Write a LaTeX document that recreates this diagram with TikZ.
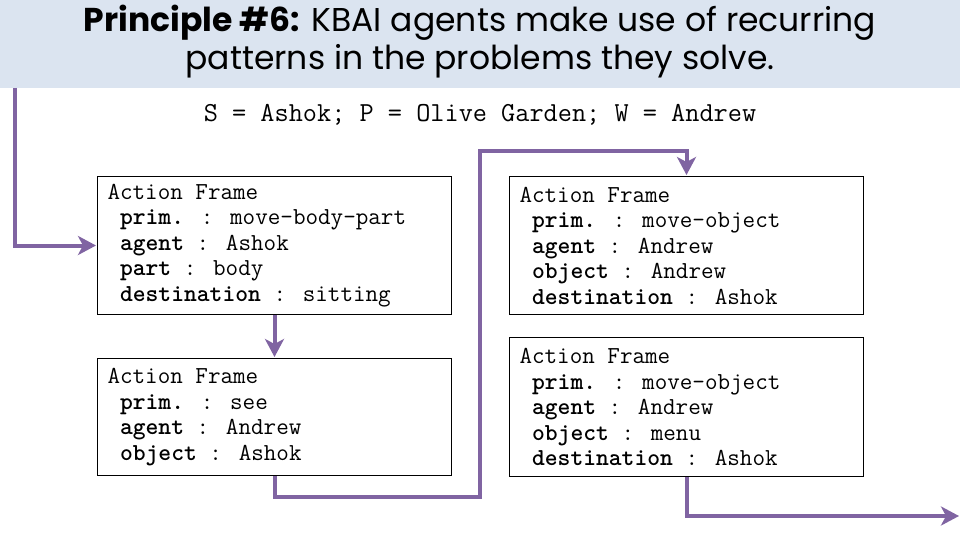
\documentclass[tikz,border=0pt]{standalone}
\usepackage{fontspec}
\newfontfamily\titlefont{Poppins}
\usetikzlibrary{arrows.meta}
\definecolor{band}{RGB}{219,228,240}
\definecolor{flow}{RGB}{128,100,162}
\begin{document}
\begin{tikzpicture}[x=1pt,y=1pt,
 frame/.style={draw=black, line width=1pt, rectangle, anchor=north west, minimum width=354pt, text width=334pt, inner xsep=10pt, inner ysep=4pt, align=flush left, font=\ttfamily\fontsize{24.4}{25.5}\selectfont},
 flowline/.style={draw=flow, line width=4pt, -{Stealth[length=18pt,width=19pt,inset=5pt]}},
 titletext/.style={anchor=base, inner sep=0pt, font=\titlefont\fontsize{33}{38}\selectfont}]
\useasboundingbox (0,0) rectangle (960,-540);
\fill[band] (0,0) rectangle (960,-88);
\node[titletext] (t1) at (480,-32) {\textbf{Principle \#6:} KBAI agents make use of recurring};
\node[titletext] (t2) at (480,-70) {patterns in the problems they solve.};
\node[anchor=base, inner sep=0pt, font=\ttfamily\fontsize{27.5}{28}\selectfont] (sub) at (480,-122) {S = Ashok; P = Olive Garden; W = Andrew};
\node[frame, minimum height=138pt] (b1) at (97,-176) {Action Frame\\
\hphantom{A}\textbf{prim.} : move-body-part\\
\hphantom{A}\textbf{agent} : Ashok\\
\hphantom{A}\textbf{part} : body\\
\hphantom{A}\textbf{destination} : sitting};
\node[frame, minimum height=117pt] (b2) at (97,-358) {Action Frame\\
\hphantom{A}\textbf{prim.} : see\\
\hphantom{A}\textbf{agent} : Andrew\\
\hphantom{A}\textbf{object} : Ashok};
\node[frame, minimum height=138pt] (b3) at (509,-176) {Action Frame\\
\hphantom{A}\textbf{prim.} : move-object\\
\hphantom{A}\textbf{agent} : Andrew\\
\hphantom{A}\textbf{object} : Andrew\\
\hphantom{A}\textbf{destination} : Ashok};
\node[frame, minimum height=139pt] (b4) at (509,-337) {Action Frame\\
\hphantom{A}\textbf{prim.} : move-object\\
\hphantom{A}\textbf{agent} : Andrew\\
\hphantom{A}\textbf{object} : menu\\
\hphantom{A}\textbf{destination} : Ashok};
\coordinate (s1) at (15,-88);
\coordinate (c1) at (480,-497);
\coordinate (c2) at (480,-151);
\coordinate (e1) at (959,-516);
\draw[flowline, shorten >=1pt] (s1) |- (b1.west);
\draw[flowline, shorten >=1pt] (b1.south) -- (b2.north);
\draw[flowline, shorten >=1pt] (b2.south) |- (c1) -- (c2) -| (b3.north);
\draw[flowline] (b4.south) |- (e1);
\end{tikzpicture}
\end{document}
